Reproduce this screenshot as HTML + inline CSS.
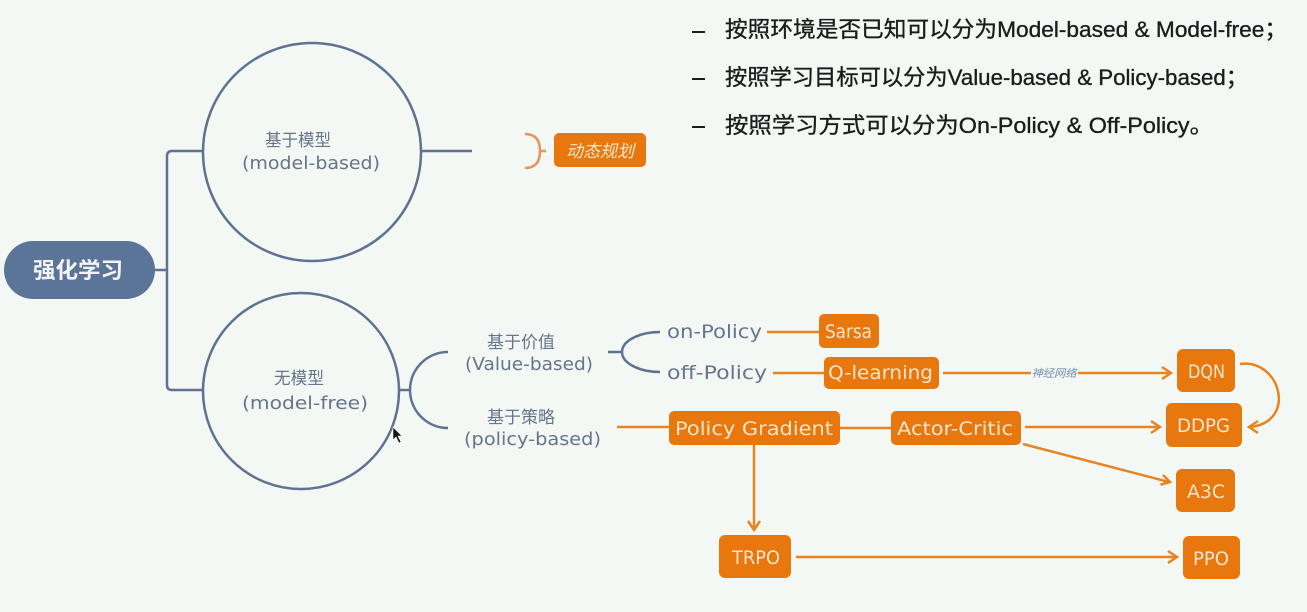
<!DOCTYPE html>
<html><head><meta charset="utf-8"><style>
html,body{margin:0;padding:0;background:#f4f8f4;}
svg{display:block}
</style></head><body>
<svg width="1307" height="612" viewBox="0 0 1307 612" xmlns="http://www.w3.org/2000/svg">
<rect width="1307" height="612" fill="#f4f8f4"/>

<!-- bullets -->
<g fill="#1c1c1c" stroke="#1c1c1c" stroke-width="0.35" font-family="Liberation Sans, Noto Sans CJK SC, sans-serif" font-size="22">
<rect x="692" y="31" width="13" height="2" stroke="none"/>
<rect x="692" y="78" width="13" height="2" stroke="none"/>
<rect x="692" y="126" width="13" height="2" stroke="none"/>
<text x="725" y="37" textLength="562" lengthAdjust="spacingAndGlyphs">按照环境是否已知可以分为Model-based &amp; Model-free；</text>
<text x="725" y="85" textLength="523" lengthAdjust="spacingAndGlyphs">按照学习目标可以分为Value-based &amp; Policy-based；</text>
<text x="725" y="133" textLength="488" lengthAdjust="spacingAndGlyphs">按照学习方式可以分为On-Policy &amp; Off-Policy。</text>
</g>

<!-- root -->
<rect x="4" y="241" width="151" height="58" rx="29" fill="#5b7598"/>
<text x="78" y="278" text-anchor="middle" font-family="Liberation Sans, Noto Sans CJK SC, sans-serif" font-size="22" font-weight="bold" fill="#f2f4f7" textLength="90" lengthAdjust="spacingAndGlyphs">强化学习</text>

<g fill="none" stroke="#5e7291" stroke-width="2.5">
<path d="M155,270 L167,270"/>
<path d="M203,151 L172,151 Q167,151 167,156 L167,385 Q167,390 172,390 L203,390"/>
<circle cx="312" cy="152" r="109"/>
<circle cx="301" cy="391" r="98"/>
<path d="M421,151 L472,151"/>
<path d="M399,390 L410,390"/>
<path d="M448,352 A38,38 0 0 0 448,428"/>
<path d="M608,352 L623,352"/>
<path d="M660,332 A38,20 0 0 0 660,372"/>
</g>

<g font-family="DejaVu Sans, Liberation Sans, Noto Sans CJK SC, sans-serif" fill="#66758c">
<text x="298" y="146" text-anchor="middle" font-size="17" textLength="66" lengthAdjust="spacingAndGlyphs">基于模型</text>
<text x="242" y="169" font-size="18" textLength="138" lengthAdjust="spacingAndGlyphs">(model-based)</text>
<text x="299" y="384" text-anchor="middle" font-size="17" textLength="50" lengthAdjust="spacingAndGlyphs">无模型</text>
<text x="242" y="409" font-size="18" textLength="126" lengthAdjust="spacingAndGlyphs">(model-free)</text>
<text x="521" y="348" text-anchor="middle" font-size="17" textLength="68" lengthAdjust="spacingAndGlyphs">基于价值</text>
<text x="465" y="370" font-size="18" textLength="128" lengthAdjust="spacingAndGlyphs">(Value-based)</text>
<text x="521" y="423" text-anchor="middle" font-size="17" textLength="68" lengthAdjust="spacingAndGlyphs">基于策略</text>
<text x="464" y="445" font-size="18" textLength="137" lengthAdjust="spacingAndGlyphs">(policy-based)</text>
<text x="667" y="338" font-size="19" textLength="95" lengthAdjust="spacingAndGlyphs">on-Policy</text>
<text x="667" y="379" font-size="19" textLength="100" lengthAdjust="spacingAndGlyphs">off-Policy</text>
</g>

<!-- orange connectors -->
<g fill="none" stroke="#e8841f" stroke-width="2.5">
<path d="M525,134 Q540,134 540,151 Q540,168 525,168 M540,151 L546,151" stroke="#e9935a"/>
<path d="M767,332 L819,332"/>
<path d="M773,373 L824,373"/>
<path d="M617,427 L669,427"/>
<path d="M840,428 L891,428"/>
<path d="M943,373 L1170,373"/>
<path d="M1162,367 L1171,373 L1162,379"/>
<path d="M1025,427 L1159,427"/>
<path d="M1151,421 L1160,427 L1151,433"/>
<path d="M1023,444 L1169,482"/>
<path d="M1163,475 L1170,482 L1160.5,484.7"/>
<path d="M754,445 L754,529"/>
<path d="M748,521 L754,530 L760,521"/>
<path d="M796,557 L1176,557"/>
<path d="M1168,551 L1177,557 L1168,563"/>
<path d="M1240,364 C1280,358 1298,422 1250,427"/>
<path d="M1258,421 L1249,427 L1258,433"/>
</g>
<rect x="1031" y="366" width="47" height="14" fill="#f4f8f4"/>
<text x="1054" y="377" text-anchor="middle" font-family="Liberation Sans, Noto Sans CJK SC, sans-serif" font-size="11" font-style="italic" fill="#7a8cae" textLength="45" lengthAdjust="spacingAndGlyphs">神经网络</text>

<!-- orange boxes -->
<g fill="#e8770d">
<rect x="554" y="133" width="92" height="34" rx="5"/>
<rect x="819" y="314" width="60" height="34" rx="5"/>
<rect x="824" y="357" width="115" height="32" rx="5"/>
<rect x="669" y="411" width="171" height="34" rx="5"/>
<rect x="891" y="411" width="130" height="34" rx="5"/>
<rect x="1177" y="349" width="58" height="43" rx="6"/>
<rect x="1166" y="403" width="76" height="44" rx="6"/>
<rect x="1176" y="469" width="59" height="43" rx="6"/>
<rect x="719" y="535" width="72" height="43" rx="6"/>
<rect x="1183" y="536" width="57" height="43" rx="6"/>
</g>
<g font-family="DejaVu Sans, Liberation Sans, Noto Sans CJK SC, sans-serif" fill="#fde6cc" font-size="19">
<text x="600" y="157" text-anchor="middle" font-size="17" font-style="italic" font-family="Liberation Sans, Noto Sans CJK SC, sans-serif" textLength="68" lengthAdjust="spacingAndGlyphs">动态规划</text>
<text x="825" y="338" textLength="47" lengthAdjust="spacingAndGlyphs">Sarsa</text>
<text x="828" y="379" textLength="105" lengthAdjust="spacingAndGlyphs">Q-learning</text>
<text x="675" y="435" textLength="158" lengthAdjust="spacingAndGlyphs">Policy Gradient</text>
<text x="897" y="435" textLength="116" lengthAdjust="spacingAndGlyphs">Actor-Critic</text>
<text x="1188" y="378" textLength="37" lengthAdjust="spacingAndGlyphs">DQN</text>
<text x="1177" y="432" textLength="53" lengthAdjust="spacingAndGlyphs">DDPG</text>
<text x="1187" y="498" textLength="38" lengthAdjust="spacingAndGlyphs">A3C</text>
<text x="732" y="564" textLength="48" lengthAdjust="spacingAndGlyphs">TRPO</text>
<text x="1193" y="565" textLength="36" lengthAdjust="spacingAndGlyphs">PPO</text>
</g>

<!-- cursor -->
<polygon points="393,427 393,440 396,437 399,443 401,442 398,436 402,436" fill="#111" stroke="#fff" stroke-width="0.6"/>
</svg>
</body></html>
